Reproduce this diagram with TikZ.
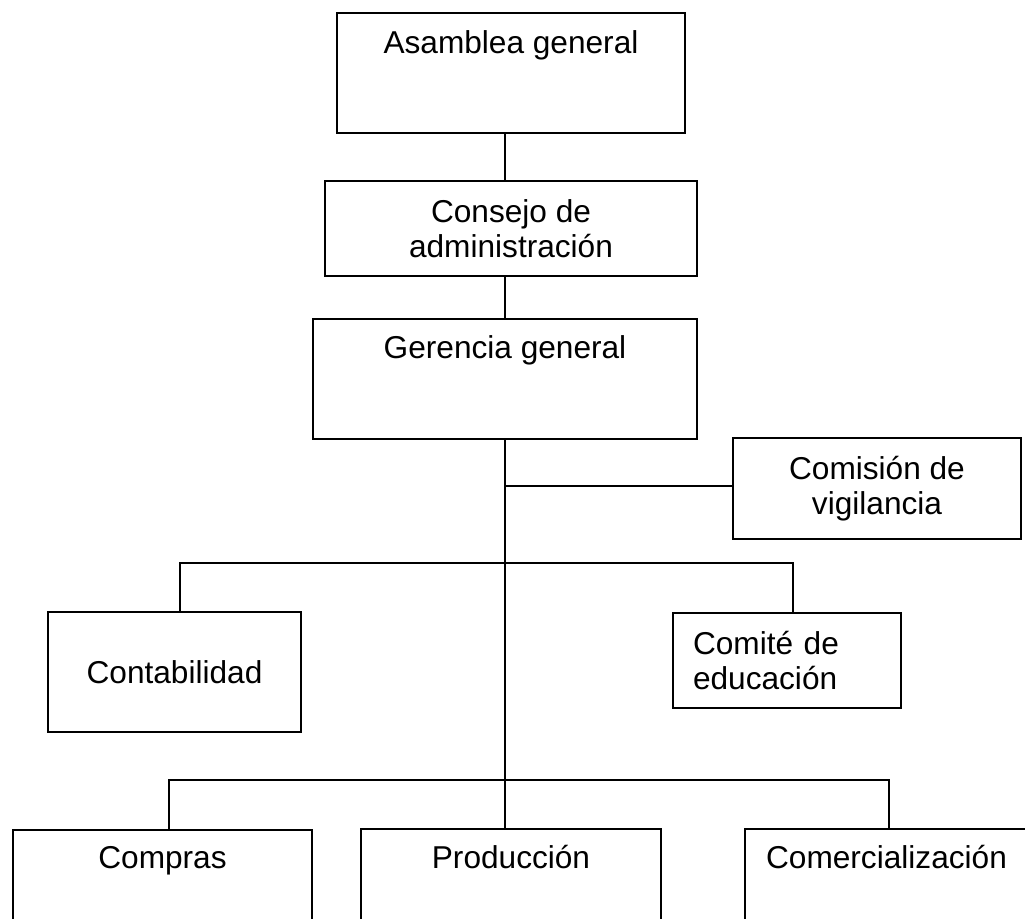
\documentclass[tikz,border=0pt]{standalone}
\usepackage{fontspec}
\setmainfont{Liberation Sans}
\usepackage{tikz}

\begin{document}
\begin{tikzpicture}[x=0.02cm, y=-0.02cm,
  caja/.style={draw, line width=1pt, inner sep=0pt, align=center,
    font=\fontsize{18}{20}\selectfont},
  linea/.style={line width=1pt}]
\useasboundingbox (0,0) rectangle (1025,919);
\clip (0,0) rectangle (1025,919);
\node[caja, anchor=north, minimum width=6.96cm, text height=0.82cm, text depth=1.58cm] (asam) at (511,12) {Asamblea general};
\node[caja, minimum width=7.44cm, minimum height=1.9cm] (cons) at (511,228.5) {Consejo de\\administración};
\node[caja, anchor=north, minimum width=7.68cm, text height=0.8cm, text depth=1.6cm] (ger) at (505,318) {Gerencia general};
\node[caja, minimum width=5.76cm, minimum height=2.02cm] (com) at (877,488.5) {Comisión de\\vigilancia};
\node[caja, minimum width=5.06cm, minimum height=2.4cm] (cont) at (174.5,672) {Contabilidad};
\node[caja, align=left, text width=3.76cm, inner xsep=0.4cm, minimum height=1.9cm] (comite) at (787,660.5) {Comité de\\educación};
\node[caja, anchor=north, minimum width=5.98cm, text height=0.78cm, text depth=1.84cm] (compras) at (162.5,829) {Compras};
\node[caja, anchor=north, minimum width=6cm, text height=0.8cm, text depth=1.84cm] (prod) at (511,828) {Producción};
\node[caja, anchor=north, minimum width=5.66cm, text height=0.8cm, text depth=1.84cm] (comer) at (886.5,828) {Comercialización};
\coordinate (eje) at (505,0);
\draw[linea] (asam.south -| eje) -- (cons.north -| eje);
\draw[linea] (cons.south -| eje) -- (ger.north -| eje);
\draw[linea] (ger.south -| eje) -- (prod.north -| eje);
\draw[linea] ([yshift=0.05cm]com.west) -- ([yshift=0.05cm]com.west -| eje);
\draw[linea] ([xshift=0.11cm]cont.north) -- ++(0,-48) -| ([xshift=0.12cm]comite.north);
\draw[linea] ([xshift=0.13cm]compras.north) -- ++(0,-49) -| ([xshift=0.05cm]comer.north);
\end{tikzpicture}
\end{document}
